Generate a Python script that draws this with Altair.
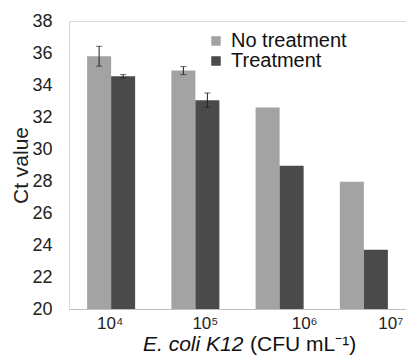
import altair as alt
import pandas as pd

categories = ["10⁴", "10⁵", "10⁶", "10⁷"]
series = ["No treatment", "Treatment"]
no_treatment = [35.8, 34.9, 32.6, 27.95]
treatment = [34.55, 33.05, 28.95, 23.7]
err_no_treatment = [0.62, 0.25, None, None]
err_treatment = [0.1, 0.45, None, None]
colors = ["#a3a3a3", "#4a4a4a"]
label_shift = [-1, 10, 25, 27]

rows = []
for i, c in enumerate(categories):
    for s, vals, errs in ((series[0], no_treatment, err_no_treatment), (series[1], treatment, err_treatment)):
        e = errs[i]
        rows.append({
            "conc": c, "group": s, "ct": vals[i],
            "lo": vals[i] - e if e is not None else None,
            "hi": vals[i] + e if e is not None else None,
        })
df = pd.DataFrame(rows)
err_df = df.dropna(subset=["lo"])

FONT = "Liberation Sans"

x_scale = alt.Scale(paddingInner=0, paddingOuter=0)
x_axis = alt.Axis(labelAngle=0, labelFontSize=17, labelFont=FONT, labelColor="#222",
                  ticks=False, domainColor="#bfbfbf", labelPadding=6, labelOverlap=False,
                  labelOffset={"condition": [
                      {"test": "datum.value === '%s'" % categories[k], "value": label_shift[k]}
                      for k in range(3)], "value": label_shift[3]})
x_enc = alt.X("conc:N", sort=categories, title=None, scale=x_scale, axis=x_axis)
xo_enc = alt.XOffset("group:N", sort=series,
                     scale=alt.Scale(paddingInner=0, paddingOuter=0.755))
y_scale = alt.Scale(domain=[20, 38], nice=False, zero=False)
y_axis = alt.Axis(values=list(range(20, 39, 2)), grid=False, ticks=False, domain=False,
                  labelOverlap=False,
                  labelFontSize=18, labelFont=FONT, labelColor="#222", labelPadding=17,
                  titleFontSize=21, titleFont=FONT, titleFontWeight="normal",
                  titleColor="#222", titlePadding=0)


def y_enc(field):
    return alt.Y(field, scale=y_scale, title="Ct value", axis=y_axis)


bars = alt.Chart(df).mark_bar(clip=True).encode(
    x=x_enc,
    xOffset=xo_enc,
    y=y_enc("ct:Q"),
    y2=alt.datum(20),
    color=alt.Color("group:N", sort=series,
                    scale=alt.Scale(domain=series, range=colors),
                    legend=alt.Legend(title=None, orient="none", legendX=137, legendY=10,
                                      symbolType="square", symbolSize=90, symbolStrokeWidth=0,
                                      labelFontSize=20, labelFont=FONT, labelColor="#111",
                                      labelOffset=5, rowPadding=-2)),
)

rules = alt.Chart(err_df).mark_rule(color="#222", strokeWidth=1).encode(
    x=x_enc, xOffset=xo_enc, y=y_enc("lo:Q"), y2="hi:Q")
caps_lo = alt.Chart(err_df).mark_tick(color="#222", thickness=1, size=6).encode(
    x=x_enc, xOffset=xo_enc, y=y_enc("lo:Q"))
caps_hi = alt.Chart(err_df).mark_tick(color="#222", thickness=1, size=6).encode(
    x=x_enc, xOffset=xo_enc, y=y_enc("hi:Q"))

title_df = pd.DataFrame({"a": ["E. coli K12"], "b": [" (CFU mL⁻¹)"]})
t1 = alt.Chart(title_df).mark_text(align="left", baseline="middle", fontSize=21, font=FONT,
                                    fontStyle="italic", color="#111").encode(
    text="a:N", x=alt.value(74), y=alt.value(324))
t2 = alt.Chart(title_df).mark_text(align="left", baseline="middle", fontSize=21, font=FONT,
                                    color="#111").encode(
    text="b:N", x=alt.value(181), y=alt.value(324))

chart = alt.layer(bars, rules, caps_lo, caps_hi, t1, t2).properties(
    width=337, height=288,
    autosize=alt.AutoSizeParams(type="none"),
    padding={"left": 61, "top": 13, "right": 0, "bottom": 46},
    background="white",
).configure_view(stroke="#d9d9d9", strokeWidth=1)

chart.save("out.html", embed_options={"renderer": "svg", "actions": False})
